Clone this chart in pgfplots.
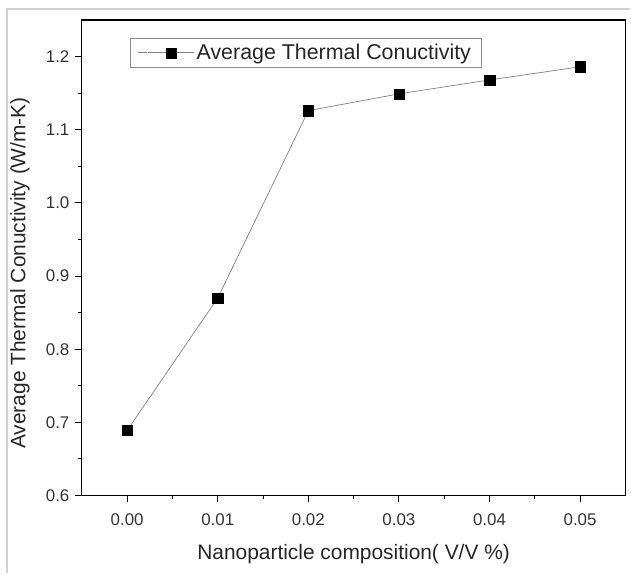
\documentclass[border=0pt]{standalone}
\usepackage{fontspec}
\setmainfont{Liberation Sans}
\usepackage{pgfplots}
\pgfplotsset{compat=1.18}

\begin{document}
\begin{tikzpicture}
\begin{axis}[
  scale only axis, width=544bp, height=476bp,
  xmin=-0.005, xmax=0.055, ymin=0.6, ymax=1.25,
  xtick={0,0.01,0.02,0.03,0.04,0.05},
  ytick={0.6,0.7,0.8,0.9,1.0,1.1,1.2},
  scaled x ticks=false, scaled y ticks=false,
  minor x tick num=1, minor y tick num=1,
  tick align=outside, tick pos=left,
  major tick length=7bp, minor tick length=4bp,
  axis line style={line width=1.2bp},
  every tick/.style={black, line width=1bp},
  /pgf/number format/assume math mode=true,
  x tick label style={/pgf/number format/fixed, /pgf/number format/fixed zerofill, /pgf/number format/precision=2, yshift=-8bp},
  y tick label style={/pgf/number format/fixed, /pgf/number format/fixed zerofill, /pgf/number format/precision=1, xshift=-2bp},
  tick label style={font=\fontsize{17}{20}\selectfont, text=black!80},
  label style={font=\fontsize{21}{24}\selectfont, text=black!85},
  xlabel={Nanoparticle composition( V/V \%)},
  ylabel={Average Thermal Conuctivity (W/m-K)},
  xlabel style={at={(axis description cs:0.5,-0.1345)}, anchor=base},
  ylabel style={at={(axis description cs:-0.114,0.468)}, anchor=center},
  clip=false,
  legend style={at={(axis description cs:0.088,0.962)}, anchor=north west,
    draw=black!45, line width=0.6bp, font=\fontsize{21.5}{24}\selectfont,
    inner xsep=8bp, inner ysep=4bp, text=black!85},
  legend image code/.code={
    \path (0bp,0bp) -- (9bp,0bp);
    \draw[mark repeat=2,mark phase=2,#1] plot coordinates {(10bp,0bp) (33bp,0bp) (56bp,0bp)};},
]
\addplot[color=black!50, line width=0.7bp, mark=square*,
  mark options={fill=black, draw=black, line width=0.2bp}, mark size=5.2bp]
  coordinates {(0.00,0.689) (0.01,0.870) (0.02,1.126) (0.03,1.149) (0.04,1.168) (0.05,1.186)};
\addlegendentry{Average Thermal Conuctivity}
% page frame as in the reference
\path (axis description cs:-0.1507,-0.1639) rectangle (axis description cs:1.0092,1.042);
\draw[black!18, line width=1.3bp] (axis description cs:-0.1379,-0.1639) -- (axis description cs:-0.1379,1.0231) -- (axis description cs:1.0092,1.0231);
\end{axis}
\end{tikzpicture}
\end{document}
